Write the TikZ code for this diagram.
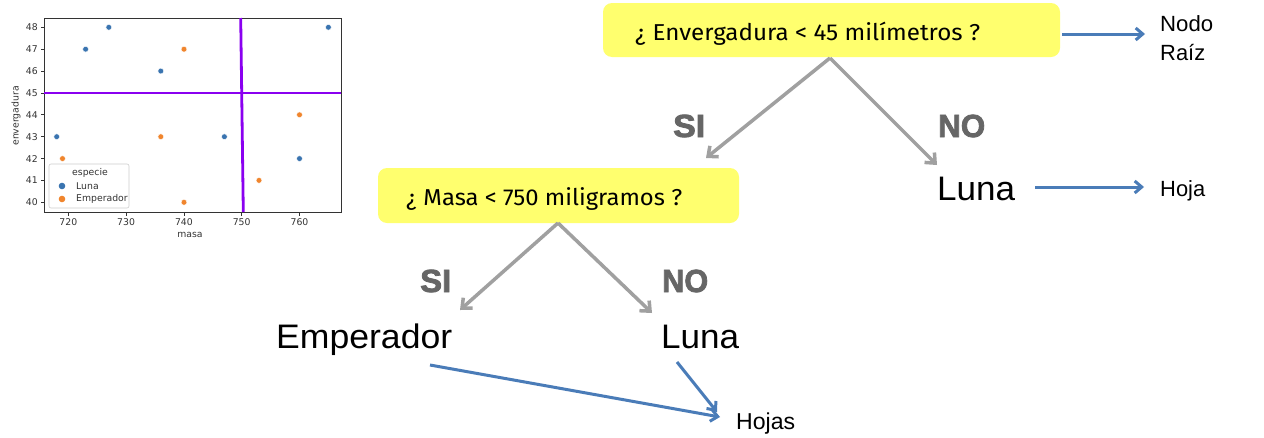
\documentclass[tikz,border=0pt]{standalone}
\usepackage{fontspec}
\usepackage{graphicx}
\setmainfont{Liberation Sans}
\newfontfamily\qfont{Fira Sans}
\newfontfamily\plotfont{DejaVu Sans}
\newfontfamily\heavyfont[FakeBold=2.5]{Liberation Sans}
\usetikzlibrary{arrows.meta}
\definecolor{qyellow}{HTML}{FFFF6E}
\definecolor{linegray}{HTML}{A0A0A0}
\definecolor{ansgray}{HTML}{666666}
\definecolor{blueline}{HTML}{4A7CB8}
\definecolor{splitpurple}{HTML}{8A00F0}
\definecolor{lunablue}{HTML}{3A74B0}
\definecolor{emporange}{HTML}{F0852D}
\definecolor{axisgray}{HTML}{333333}
\newcommand\fitto[2]{\resizebox{#1}{\height}{#2}}
\begin{document}
\begin{tikzpicture}[x=1pt,y=-1pt,
  qbox/.style={fill=qyellow, draw=none, rounded corners=9pt, inner sep=0pt},
  qtext/.style={font=\qfont\fontsize{23}{27}\selectfont, anchor=base west, inner sep=0pt},
  leaf/.style={font=\fontsize{34}{40}\selectfont, anchor=base west, inner sep=0pt},
  ans/.style={font=\heavyfont\bfseries\fontsize{32}{36}\selectfont, text=ansgray, anchor=base west, inner sep=0pt},
  note/.style={font=\fontsize{22}{26}\selectfont, anchor=base west, inner sep=0pt},
  grayarrow/.style={draw=linegray, line width=3.5pt, -{Straight Barb[length=8pt,width=14pt]}},
  bluearrow/.style={draw=blueline, line width=3pt, -{Straight Barb[length=7pt,width=12pt]}},
  ticklab/.style={font=\plotfont\fontsize{9.3}{11}\selectfont, text=axisgray, inner sep=0pt},
  axlab/.style={font=\plotfont\fontsize{9.3}{11}\selectfont, text=axisgray, inner sep=0pt},
  lunapt/.style={fill=lunablue, draw=white, line width=0.4pt},
  emppt/.style={fill=emporange, draw=white, line width=0.4pt}
]
\useasboundingbox (0,0) rectangle (1264,437);
\fill[white] (0,0) rectangle (1264,437);

% ---------------- scatter plot ----------------
\draw[axisgray, line width=0.8pt] (44,18) rectangle (341,212);
% x ticks
\foreach \xx/\lab in {68.3/720,126.1/730,183.9/740,241.7/750,299.5/760}{
  \draw[axisgray, line width=0.7pt] (\xx,212) -- (\xx,215.5);
  \node[ticklab] (xt\lab) at (\xx,222) {\lab};
}
% y ticks
\foreach \yy/\lab in {27.3/48,49.2/47,71.05/46,92.9/45,114.8/44,136.7/43,158.55/42,180.4/41,202.3/40}{
  \draw[axisgray, line width=0.7pt] (44,\yy) -- (40.5,\yy);
  \node[ticklab, anchor=east] (yt\lab) at (38,\yy) {\lab};
}
\node[axlab] (xlabel) at (190,235) {masa};
\node[axlab, rotate=90] (ylabel) at (16,116) {envergadura};
% points
\foreach \px/\py in {56.7/136.7,85.6/49.2,108.8/27.3,160.8/71.05,224.4/136.7,299.5/158.6,328.4/27.3}
  \filldraw[lunapt] (\px,\py) circle (2.9pt);
\foreach \px/\py in {62.5/158.6,160.8/136.7,184.0/49.2,184.0/202.3,259.0/180.4,299.5/114.8}
  \filldraw[emppt] (\px,\py) circle (2.9pt);
% split lines
\draw[splitpurple, line width=2.8pt] (44,92.9) -- (341,92.9);
\draw[splitpurple, line width=2.8pt] (240.7,18) -- (243.3,212);
% legend
\draw[draw=black!20, fill=white, fill opacity=0.85, rounded corners=2pt, line width=0.6pt] (49,164) rectangle (129,208);
\node[axlab] (legtitle) at (90,173) {especie};
\fill[lunablue] (62,186) circle (3.3pt);
\node[axlab, anchor=west] (legluna) at (76,186) {Luna};
\fill[emporange] (62,199) circle (3.3pt);
\node[axlab, anchor=west] (legemp) at (76,199) {Emperador};

% ---------------- tree ----------------
\node[qbox, minimum width=457pt, minimum height=54pt] (root) at (831.5,30) {};
\node[qtext] (roottxt) at (635,40) {\fitto{345pt}{¿ Envergadura < 45 milímetros ?}};

\node[qbox, minimum width=361pt, minimum height=55pt] (masa) at (558.5,195.5) {};
\node[qtext] (masatxt) at (406,205) {\fitto{276pt}{¿ Masa < 750 miligramos ?}};

\node[ans] (si1) at (673,137) {\fitto{32pt}{SI}};
\node[ans] (no1) at (938,137) {\fitto{47pt}{NO}};
\node[ans] (si2) at (420,292) {\fitto{31pt}{SI}};
\node[ans] (no2) at (662,292) {\fitto{46pt}{NO}};

\node[leaf] (luna1) at (937,200) {\fitto{78pt}{Luna}};
\node[leaf] (emp) at (276,348) {\fitto{176pt}{Emperador}};
\node[leaf] (luna2) at (661,348) {\fitto{78pt}{Luna}};

\node[note] (nodo) at (1160,31) {\fitto{53pt}{Nodo}};
\node[note] (raiz) at (1160,60) {\fitto{45pt}{Raíz}};
\node[note] (hoja) at (1160,196) {\fitto{45pt}{Hoja}};
\node[note, font=\fontsize{23}{27}\selectfont] (hojas) at (736,429) {\fitto{59pt}{Hojas}};

% gray split arrows
\coordinate (rootapex) at (830,58);
\coordinate (sitip1) at (706,158);
\coordinate (notip1) at (937,165);
\coordinate (masaapex) at (558,223);
\coordinate (sitip2) at (460,310);
\coordinate (notip2) at (652,313);
\draw[grayarrow] (rootapex) -- (sitip1);
\draw[grayarrow] (rootapex) -- (notip1);
\draw[grayarrow] (masaapex) -- (sitip2);
\draw[grayarrow] (masaapex) -- (notip2);

% blue annotation arrows
\coordinate (rootout) at (1062,34);
\coordinate (rootin) at (1145,34);
\coordinate (lunaout) at (1035,187);
\coordinate (hojain) at (1144,187);
\coordinate (empout) at (430,365);
\coordinate (hojasinA) at (720,417);
\coordinate (luna2out) at (677,362);
\coordinate (hojasinB) at (717,412);
\draw[bluearrow] (rootout) -- (rootin);
\draw[bluearrow] (lunaout) -- (hojain);
\draw[bluearrow] (empout) -- (hojasinA);
\draw[bluearrow] (luna2out) -- (hojasinB);
\end{tikzpicture}
\end{document}
